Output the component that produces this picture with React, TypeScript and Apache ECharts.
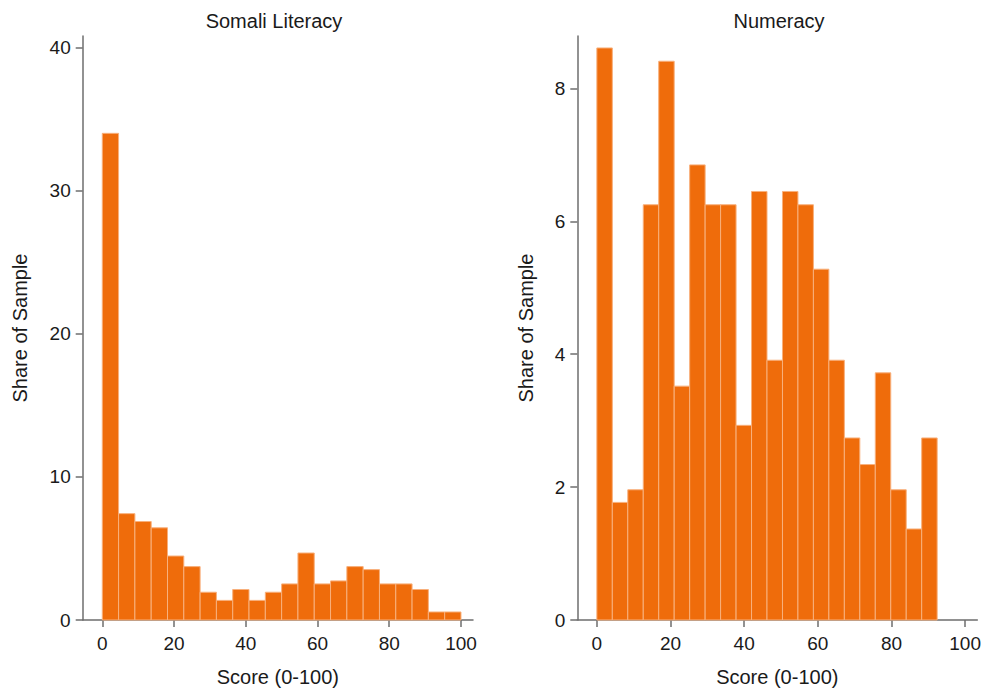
import React, { useEffect, useRef } from "react";
import * as echarts from "echarts";

// Histogram data (share of sample, %), 22 equal-width bins each
const literacyRange = [0, 100];
const literacyShares = [34.0, 7.43, 6.88, 6.44, 4.47, 3.73, 1.94, 1.37, 2.13, 1.37, 1.94, 2.52, 4.68, 2.52, 2.73, 3.73, 3.52, 2.52, 2.52, 2.13, 0.56, 0.56];

const numeracyRange = [0, 92.4];
const numeracyShares = [8.61, 1.77, 1.96, 6.25, 8.41, 3.52, 6.85, 6.25, 6.25, 2.93, 6.45, 3.91, 6.45, 6.25, 5.28, 3.91, 2.74, 2.34, 3.72, 1.96, 1.37, 2.74];

const scoreTicks = [0, 20, 40, 60, 80, 100];
const literacyTicks = [0, 10, 20, 30, 40];
const numeracyTicks = [0, 2, 4, 6, 8];

const titles = ["Somali Literacy", "Numeracy"];
const xName = "Score (0-100)";
const yName = "Share of Sample";

function toBins(range: number[], shares: number[]) {
  const w = (range[1] - range[0]) / shares.length;
  return shares.map((v, i) => [range[0] + i * w, range[0] + (i + 1) * w, v]);
}

const FONT = "Liberation Sans, Arial, sans-serif";
const TEXT = "#1a1a1a";
const AXIS = "#6e6e6e";
const BAR = "#EF6C0B";

export default function App() {
  const ref = useRef<HTMLDivElement>(null);
  useEffect(() => {
    if (!ref.current) return;
    const chart = echarts.init(ref.current, null, { renderer: "svg" });

    const makeX = (gridIndex: number, min: number, max: number) => ({
      type: "value",
      gridIndex,
      min,
      max,
      name: xName,
      nameLocation: "middle",
      nameGap: 47,
      nameTextStyle: { fontFamily: FONT, fontSize: 20, color: TEXT },
      axisLine: { show: true, onZero: false, lineStyle: { color: AXIS, width: 1.5 } },
      axisTick: { show: true, length: 7, customValues: scoreTicks, lineStyle: { color: AXIS, width: 1.5 } },
      axisLabel: { customValues: scoreTicks, margin: 14, fontFamily: FONT, fontSize: 19, color: TEXT },
      splitLine: { show: false },
    });
    const makeY = (gridIndex: number, max: number, ticks: number[], nameGap: number) => ({
      type: "value",
      gridIndex,
      min: 0,
      max,
      name: yName,
      nameLocation: "middle",
      nameGap,
      nameTextStyle: { fontFamily: FONT, fontSize: 20, color: TEXT },
      axisLine: { show: true, onZero: false, lineStyle: { color: AXIS, width: 1.5 } },
      axisTick: { show: true, length: 7, customValues: ticks, lineStyle: { color: AXIS, width: 1.5 } },
      axisLabel: { customValues: ticks, margin: 12, fontFamily: FONT, fontSize: 19, color: TEXT },
      splitLine: { show: false },
    });

    const renderItem = (params: any, api: any) => {
      const p0 = api.coord([api.value(0), api.value(2)]);
      const p1 = api.coord([api.value(1), 0]);
      return {
        type: "rect",
        shape: { x: p0[0], y: p0[1], width: p1[0] - p0[0], height: p1[1] - p0[1] },
        style: { fill: BAR, stroke: "#F8B07C", lineWidth: 1 },
      };
    };

    chart.setOption({
      animation: false,
      backgroundColor: "#ffffff",
      grid: [
        { left: 82.7, width: 390.3, top: 36, bottom: 68.7 },
        { left: 577.3, width: 402.7, top: 36, bottom: 68.7 },
      ],
      xAxis: [makeX(0, -5.46, 103.35), makeX(1, -5.31, 103.3)],
      yAxis: [makeY(0, 40.8, literacyTicks, 53), makeY(1, 8.79, numeracyTicks, 41)],
      graphic: [
        { type: "text", x: 274, y: 21, style: { text: titles[0], textAlign: "center", textVerticalAlign: "middle", fontFamily: FONT, fontSize: 20, fill: TEXT } },
        { type: "text", x: 779, y: 21, style: { text: titles[1], textAlign: "center", textVerticalAlign: "middle", fontFamily: FONT, fontSize: 20, fill: TEXT } },
      ],
      series: [
        {
          type: "custom",
          xAxisIndex: 0,
          yAxisIndex: 0,
          renderItem,
          encode: { x: [0, 1], y: 2 },
          data: toBins(literacyRange, literacyShares),
        },
        {
          type: "custom",
          xAxisIndex: 1,
          yAxisIndex: 1,
          renderItem,
          encode: { x: [0, 1], y: 2 },
          data: toBins(numeracyRange, numeracyShares),
        },
      ],
    });
    return () => chart.dispose();
  }, []);
  return <div ref={ref} style={{ position: "fixed", left: 0, top: 0, width: 984, height: 692 }} />;
}
